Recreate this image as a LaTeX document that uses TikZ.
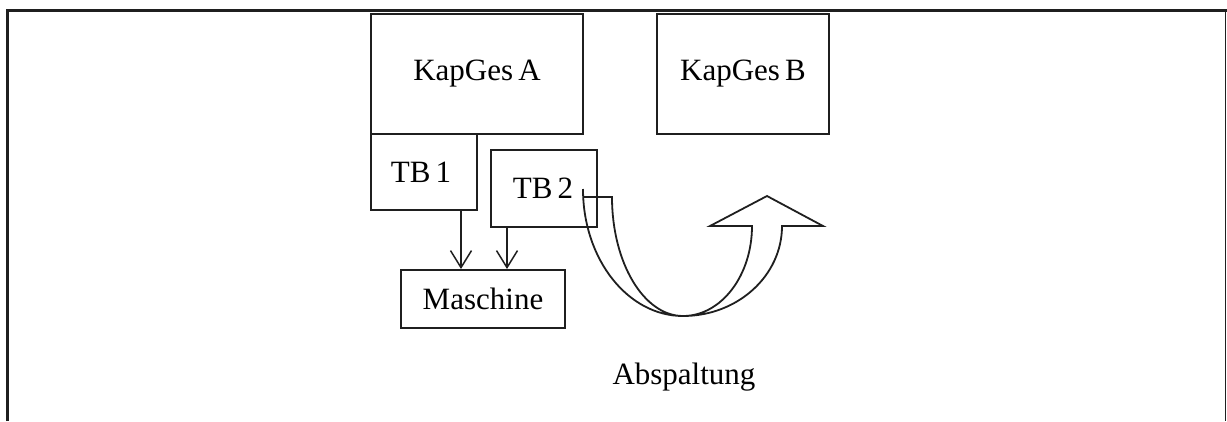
\documentclass[tikz,border=0pt]{standalone}
\usepackage{fontspec}
\setmainfont{Liberation Serif}
\usetikzlibrary{arrows.meta}
\begin{document}
\begin{tikzpicture}[x=1pt,y=-1pt,
  box/.style={draw=black!88, line width=2pt, rectangle, inner sep=0pt, font=\fontsize{31}{37}\selectfont},
  lbl/.style={inner sep=0pt, font=\fontsize{31}{37}\selectfont},
  arr/.style={draw=black!88, line width=1.5pt, -{Straight Barb[length=17pt,width=21pt,line width=1.5pt]}},
  band/.style={draw=black!88, line width=1.8pt, line join=miter}]
\useasboundingbox (0,0) rectangle (1227,421);
% frame
\draw[black!88, line width=3pt] (7,421) -- (7,10) -- (1227,10);
\draw[black!88, line width=1.5pt] (1225.5,10) -- (1225.5,421);
% boxes
\node[box, minimum width=212pt, minimum height=120pt] (ka) at (477,74) {KapGes\,A};
\node[box, minimum width=172pt, minimum height=120pt] (kb) at (743,74) {KapGes\,B};
\node[box, minimum width=106pt, minimum height=76pt] (tb1) at (424,172) {};
\node[lbl] at (421,172) {TB\,1};
\node[box, minimum width=106pt, minimum height=77pt] (tb2) at (544,188.5) {};
\node[lbl] at (543,188) {TB\,2};
\node[box, minimum width=164pt, minimum height=58pt] (m) at (483,299) {Maschine};
\node[lbl] (ab) at (684,377) {Abspaltung};
% arrows
\draw[arr] ([xshift=37pt]tb1.south) -- ([xshift=37pt]tb1.south |- m.north);
\draw[arr] ([xshift=-37pt]tb2.south) -- ([xshift=-37pt]tb2.south |- m.north);
% curved band arrow
\draw[band] (583,189) arc[start angle=180, end angle=90, x radius=100, y radius=127]
  arc[start angle=90, end angle=0, x radius=99, y radius=90]
  -- (823,226) -- (767,196) -- (710,226) -- (752,226)
  arc[start angle=0, end angle=90, x radius=69, y radius=90]
  arc[start angle=90, end angle=180, x radius=71, y radius=119]
  -- (583,197);
\end{tikzpicture}
\end{document}
